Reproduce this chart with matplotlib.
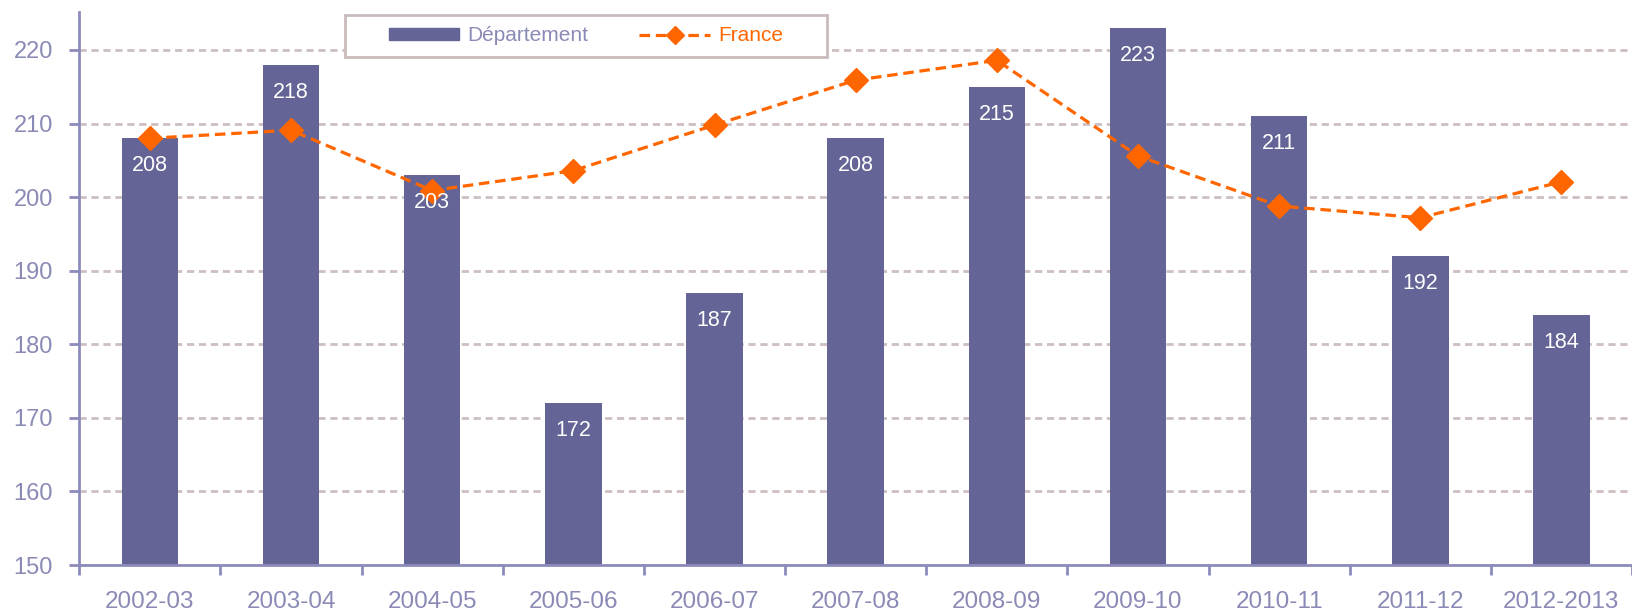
import matplotlib
matplotlib.use("Agg")
import numpy as np
import matplotlib.pyplot as plt
from matplotlib.patches import Patch, Rectangle
from matplotlib.lines import Line2D

# data
years = ['2002-03', '2003-04', '2004-05', '2005-06', '2006-07', '2007-08',
         '2008-09', '2009-10', '2010-11', '2011-12', '2012-2013']
departement = [208, 218, 203, 172, 187, 208, 215, 223, 211, 192, 184]
france = [208.0, 209.1, 200.9, 203.6, 209.8, 215.9, 218.6, 205.6, 198.8, 197.2, 202.1]
yticks = [150, 160, 170, 180, 190, 200, 210, 220]

bar_col = '#646496'
line_col = '#FF6600'
axis_col = '#8C8CBC'
text_col = '#8A8AB6'
grid_col = '#CDBFBF'

plt.rcParams['font.family'] = ['Liberation Sans', 'DejaVu Sans']

fig = plt.figure(figsize=(16.32, 6.14), dpi=100)
ax = fig.add_axes([0.0486, 0.0797, 0.9514, 0.9])

x = np.arange(len(years))
ax.bar(x, departement, width=0.40, color=bar_col, zorder=2)
ax.plot(x, france, color=line_col, ls=(0, (3.3, 1.8)), lw=2.3, marker='D',
        markersize=12, zorder=3)

for xi, v in zip(x, departement):
    ax.text(xi, v - 2.3, str(v), ha='center', va='top', color='white',
            fontsize=15.5, zorder=4)

ax.set_ylim(150, 225.1)
ax.set_xlim(-0.5, 10.42)
ax.set_yticks(yticks)
ax.set_yticklabels([str(t) for t in yticks])
ax.set_xticks(x)
ax.set_xticklabels(years)
ax.set_xticks(np.arange(len(years) + 1) - 0.5, minor=True)

ax.yaxis.grid(True, color=grid_col, ls=(0, (2.6, 1.7)), lw=2, zorder=1)
ax.set_axisbelow(True)

for s in ['top', 'right']:
    ax.spines[s].set_visible(False)
for s in ['left', 'bottom']:
    ax.spines[s].set_color(axis_col)
    ax.spines[s].set_linewidth(2)

ax.tick_params(axis='y', colors=axis_col, labelcolor=text_col, labelsize=17,
               length=7, width=2, pad=12)
ax.tick_params(axis='x', which='major', length=0, labelcolor=text_col,
               labelsize=17.5, pad=19)
ax.tick_params(axis='x', which='minor', colors=axis_col, length=7, width=2)

# legend box drawn separately, content centred in it
ax.add_patch(Rectangle((0.1711, 0.9195), 0.3104, 0.076, transform=ax.transAxes,
                       facecolor='white', edgecolor='#C9BBBB', lw=2,
                       zorder=5, clip_on=False))
handles = [Patch(color=bar_col),
           Line2D([], [], color=line_col, ls=(0, (3.3, 1.8)), lw=2.3, marker='D',
                  markersize=9)]
leg = ax.legend(handles, ['Département', 'France'], ncol=2,
                loc='center', bbox_to_anchor=(0.3263, 0.9575),
                fontsize=15, frameon=False,
                handlelength=3.37, handleheight=0.5, columnspacing=2.45,
                borderpad=0, handletextpad=0.4, borderaxespad=0)
leg.texts[0].set_color(text_col)
leg.texts[1].set_color(line_col)
leg.set_zorder(6)

fig.savefig('out.png', dpi=100)
